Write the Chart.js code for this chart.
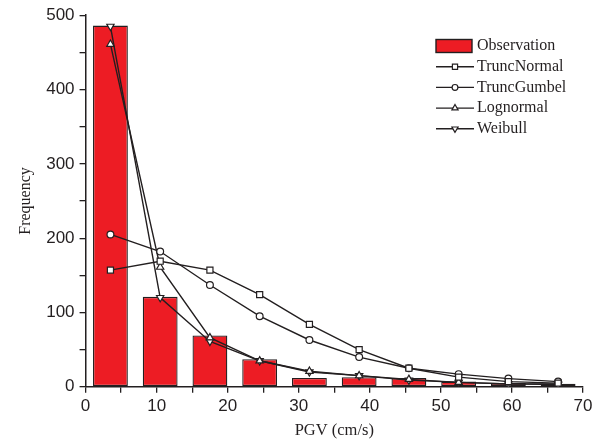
<!DOCTYPE html>
<html>
<head>
<meta charset="utf-8">
<script src="https://cdn.jsdelivr.net/npm/chart.js@4/dist/chart.umd.min.js"></script>
<style>
  html, body { margin: 0; padding: 0; background: #fff; }
  #wrap { width: 602px; height: 444px; }
</style>
</head>
<body>
<div id="wrap"><canvas id="pgvChart" width="602" height="444"></canvas></div>
<script>
// bin centres of the PGV histogram (cm/s)
const binCenters = [3.5, 10.5, 17.5, 24.5, 31.5, 38.5, 45.5, 52.5, 59.5, 66.5];
const observation = [486, 121, 69, 37, 12, 13, 12, 7, 5, 4];
const truncNormal = [157, 169, 157, 124, 84, 50, 25, 13, 7, 5];
const truncGumbel = [205, 182, 137, 95, 63, 40, 25, 17, 11, 7];
const lognormal = [461, 161, 66, 35, 21, 15, 10, 6, 4, 4];
const weibull = [485, 120, 61, 35, 20, 15, 9, 6, 4, 3];

const ink = "#231f20";
const sansFont = "'Liberation Sans', Arial, sans-serif";
const serifFont = "'Liberation Serif', 'Times New Roman', serif";

function pts(values) {
    return values.map(function (v, i) { return { x: binCenters[i], y: v }; });
}

function lineSet(label, values, style, radius, rotation) {
    return {
        type: "line",
        label: label,
        data: pts(values),
        borderColor: ink,
        borderWidth: 1.4,
        pointStyle: style,
        pointRadius: radius,
        pointRotation: rotation || 0,
        pointBackgroundColor: "#fff",
        pointBorderColor: ink,
        pointBorderWidth: 1.2,
        fill: false,
        tension: 0,
        order: 0
    };
}

// simple legend drawn like the original (box for bars, line + marker for fits)
const legendPlugin = {
    id: "pgvLegend",
    afterDraw: function (chart) {
        const ctx = chart.ctx;
        const x0 = 436, y0 = 46, rowH = 20.7;
        ctx.save();
        ctx.font = "16px " + serifFont;
        ctx.textBaseline = "middle";
        chart.data.datasets.forEach(function (ds, i) {
            const y = y0 + i * rowH;
            if (ds.type === "bar") {
                ctx.fillStyle = ds.backgroundColor;
                ctx.strokeStyle = ink;
                ctx.lineWidth = 1.4;
                ctx.fillRect(x0, y - 6.5, 36, 13);
                ctx.strokeRect(x0, y - 6.5, 36, 13);
            } else {
                ctx.strokeStyle = ink;
                ctx.lineWidth = 1.4;
                ctx.beginPath();
                ctx.moveTo(x0, y);
                ctx.lineTo(x0 + 38, y);
                ctx.stroke();
                ctx.fillStyle = "#fff";
                ctx.lineWidth = 1.2;
                Chart.helpers.drawPoint(ctx, {
                    pointStyle: ds.pointStyle,
                    rotation: ds.pointRotation,
                    radius: ds.pointRadius * 0.85,
                    borderWidth: 1.2
                }, x0 + 19, y);
            }
            ctx.fillStyle = ink;
            ctx.fillText(ds.label, x0 + 41, y);
        });
        ctx.restore();
    }
};

const ctx = document.getElementById("pgvChart").getContext("2d");

new Chart(ctx, {
    data: {
        datasets: [
            {
                type: "bar",
                label: "Observation",
                data: pts(observation),
                backgroundColor: "#ed1c24",
                borderColor: ink,
                borderWidth: 1.3,
                borderSkipped: false,
                // bar width is measured against the 5-unit tick spacing
                categoryPercentage: 1,
                barPercentage: 0.98,
                order: 10
            },
            lineSet("TruncNormal", truncNormal, "rect", 4.3),
            lineSet("TruncGumbel", truncGumbel, "circle", 3.4),
            lineSet("Lognormal", lognormal, "triangle", 4.2),
            lineSet("Weibull", weibull, "triangle", 4.2, 180)
        ]
    },
    options: {
        responsive: false,
        animation: false,
        layout: { padding: { top: 14, right: 19, left: 16, bottom: 3 } },
        plugins: {
            legend: { display: false },
            tooltip: { enabled: false }
        },
        scales: {
            x: {
                type: "linear",
                min: 0,
                max: 70,
                offset: false,
                ticks: {
                    stepSize: 5,
                    autoSkip: false,
                    maxRotation: 0,
                    padding: 3,
                    color: ink,
                    font: { family: sansFont, size: 17 },
                    callback: function (v) { return v % 10 === 0 ? v : ""; }
                },
                grid: { offset: false, drawOnChartArea: false, tickLength: 6, color: ink, lineWidth: 1.3 },
                border: { color: ink, width: 1.5 },
                title: {
                    display: true,
                    text: "PGV (cm/s)",
                    color: ink,
                    font: { family: serifFont, size: 16.5 },
                    padding: { top: 2, bottom: 0 }
                }
            },
            y: {
                min: 0,
                max: 500,
                ticks: {
                    stepSize: 50,
                    autoSkip: false,
                    padding: 5,
                    color: ink,
                    font: { family: sansFont, size: 17 },
                    callback: function (v) { return v % 100 === 0 ? v : ""; }
                },
                grid: { drawOnChartArea: false, tickLength: 6, color: ink, lineWidth: 1.3 },
                border: { color: ink, width: 1.5 },
                title: {
                    display: true,
                    text: "Frequency",
                    color: ink,
                    font: { family: serifFont, size: 16 },
                    padding: { top: 0, bottom: 6 }
                }
            }
        }
    },
    plugins: [legendPlugin]
});
</script>
</body>
</html>
